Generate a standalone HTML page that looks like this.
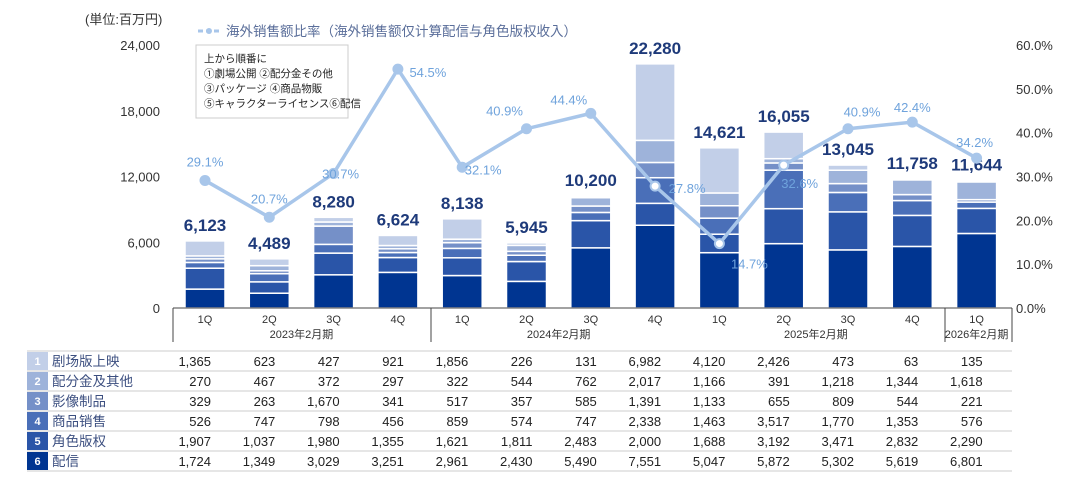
<!DOCTYPE html>
<html><head><meta charset="utf-8"><style>
body{margin:0;background:#fff;width:1080px;height:476px;overflow:hidden;font-family:"Liberation Sans","Noto Sans CJK JP",sans-serif}
svg text{font-family:"Liberation Sans","Noto Sans CJK JP",sans-serif}
</style></head><body>
<svg id="c" width="1080" height="476"></svg>
<script>
const quarters=["1Q","2Q","3Q","4Q","1Q","2Q","3Q","4Q","1Q","2Q","3Q","4Q","1Q"];
const rowNames=["剧场版上映","配分金及其他","影像制品","商品销售","角色版权","配信"];
const theater=[1365,623,427,921,1856,226,131,6982,4120,2426,473,63,135];
const bunpai=[270,467,372,297,322,544,762,2017,1166,391,1218,1344,1618];
const video=[329,263,1670,341,517,357,585,1391,1133,655,809,544,221];
const goods=[526,747,798,456,859,574,747,2338,1463,3517,1770,1353,576];
const license=[1907,1037,1980,1355,1621,1811,2483,2000,1688,3192,3471,2832,2290];
const streaming=[1724,1349,3029,3251,2961,2430,5490,7551,5047,5872,5302,5619,6801];
const totals=["6,123","4,489","8,280","6,624","8,138","5,945","10,200","22,280","14,621","16,055","13,045","11,758","11,644"];
const ratio=[29.1,20.7,30.7,54.5,32.1,40.9,44.4,27.8,14.7,32.6,40.9,42.4,34.2];
const leftTicks=[0,6000,12000,18000,24000];
const rightTicks=[0,10,20,30,40,50,60];
const periods=[{label:"2023年2月期",from:0,to:3},{label:"2024年2月期",from:4,to:7},{label:"2025年2月期",from:8,to:11},{label:"2026年2月期",from:12,to:12}];

const svg=document.getElementById('c');const NS="http://www.w3.org/2000/svg";
function el(t,a,p){const e=document.createElementNS(NS,t);for(const k in a)e.setAttribute(k,a[k]);(p||svg).appendChild(e);return e;}
const x=i=>205+i*64.3;
const y=v=>308-v/24000*263;
const yr=p=>308-p/60*263;
const colors=["#c2cfe8","#9eb3da","#7590c8","#4a6fb8","#2a55a8","#003591"];
const series=[theater,bunpai,video,goods,license,streaming];

// axis labels
let t=el('text',{x:85,y:24,'font-size':13,fill:'#333'});t.textContent="(単位:百万円)";

leftTicks.forEach(v=>{const e=el('text',{x:160,y:y(v)+5,'text-anchor':'end','font-size':13,fill:'#333'});e.textContent=v.toLocaleString('en-US');
});
rightTicks.forEach(v=>{const e=el('text',{x:1016,y:yr(v)+5,'font-size':13,fill:'#333'});e.textContent=v.toFixed(1)+"%";
});

// legend
const lg=el('g',{});
el('line',{x1:198,y1:31,x2:220,y2:31,stroke:'#a8c6ea','stroke-width':3,'stroke-dasharray':'5,3'},lg);
el('circle',{cx:209,cy:31,r:3,fill:'#a8c6ea'},lg);
t=el('text',{x:226,y:36,'font-size':13.5,fill:'#5a6e9a'},lg);t.textContent="海外销售额比率（海外销售额仅计算配信与角色版权收入）";
const box=el('g',{});
el('rect',{x:196,y:45,width:152,height:73,fill:'#fff',stroke:'#ccc'},box);
["上から順番に","①劇場公開 ②配分金その他","③パッケージ ④商品物販","⑤キャラクターライセンス⑥配信"].forEach((s,i)=>{const e=el('text',{x:204,y:62+i*15,'font-size':10.5,fill:'#222'},box);e.textContent=s;});

// bars
quarters.forEach((q,i)=>{
  let base=0;
  for(let s=5;s>=0;s--){
    const v=series[s][i];
    const r=el('rect',{x:x(i)-20,y:y(base+v),width:40,height:Math.max(0,y(base)-y(base+v)),fill:colors[s],stroke:'#fff','stroke-width':1.5});
    
    base+=v;
  }
  const e=el('text',{x:x(i),y:y(base)-10,'text-anchor':'middle','font-size':17,'font-weight':'bold',fill:'#1e3a7a'});e.textContent=totals[i];
  
});

// ratio line
const lblOff=[[0,-19],[0,-19],[7,0],[30,3],[21,2],[-22,-18],[-22,-14],[32,2],[30,20],[16,18],[14,-17],[0,-15],[-2,-16]];
el('polyline',{points:ratio.map((p,i)=>x(i)+','+yr(p)).join(' '),fill:'none',stroke:'#a8c6ea','stroke-width':3.5});
ratio.forEach((p,i)=>{
  const hollow=(i==7||i==8||i==9);
  const c=el('circle',{cx:x(i),cy:yr(p),r:4.5,fill:hollow?'#fff':'#a8c6ea',stroke:'#a8c6ea','stroke-width':2});
  
  const e=el('text',{x:x(i)+lblOff[i][0],y:yr(p)+lblOff[i][1]+5,'text-anchor':'middle','font-size':13,fill:'#6fa3dc'});e.textContent=p.toFixed(1)+"%";
  
});

// category axis
el('line',{x1:173,y1:308,x2:1012,y2:308,stroke:'#444','stroke-width':1});
[173,431,945,1012].forEach(v=>el('line',{x1:v,y1:308,x2:v,y2:342,stroke:'#444','stroke-width':1}));
quarters.forEach((q,i)=>{const e=el('text',{x:x(i),y:323,'text-anchor':'middle','font-size':11,fill:'#333'});e.textContent=q;
});
periods.forEach(p=>{const e=el('text',{x:(x(p.from)+x(p.to))/2,y:338,'text-anchor':'middle','font-size':11,fill:'#333'});e.textContent=p.label;
});

// table
rowNames.forEach((n,r)=>{
  const ty=351+r*20;
  el('line',{x1:27,y1:ty,x2:1012,y2:ty,stroke:'#ddd','stroke-width':1.5});
  el('rect',{x:27,y:ty+1,width:21,height:18,fill:colors[r]});
  const b=el('text',{x:37.5,y:ty+14,'text-anchor':'middle','font-size':11,'font-weight':'bold',fill:'#fff'});b.textContent=String(r+1);
  const e=el('text',{x:52,y:ty+15,'font-size':13.5,fill:'#3c4f80'});e.textContent=n;
  
  series[r].forEach((v,i)=>{const c=el('text',{x:x(i)+6,y:ty+15,'text-anchor':'end','font-size':13,fill:'#222'});c.textContent=v.toLocaleString('en-US');
  });
});
el('line',{x1:27,y1:471,x2:1012,y2:471,stroke:'#ddd','stroke-width':1.5});
</script>
</body></html>
